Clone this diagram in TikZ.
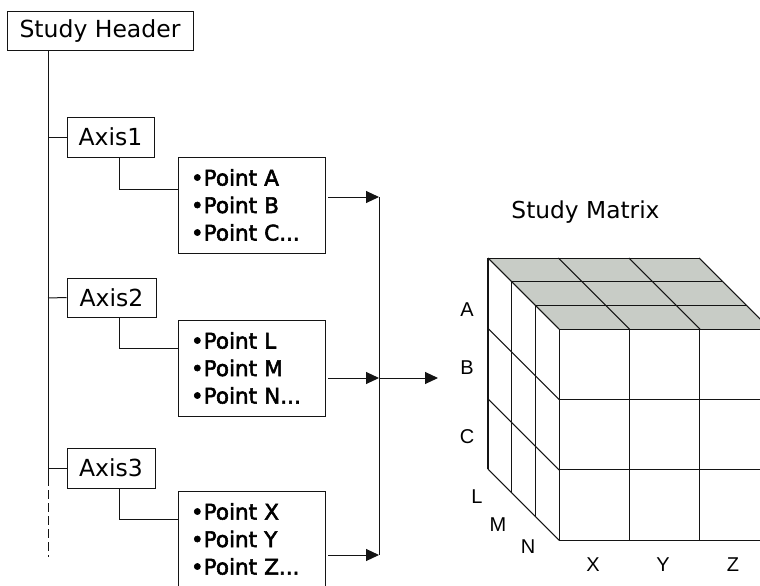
\documentclass[tikz,border=0pt]{standalone}
\usepackage{fontspec}
\setmainfont{DejaVu Sans}
\newfontfamily\labfont{Liberation Sans}
\newfontfamily\ptfont[FakeBold=2.5]{DejaVu Sans}
\usetikzlibrary{arrows.meta}
\definecolor{topgray}{RGB}{200,204,198}
\definecolor{linec}{RGB}{20,20,20}
\begin{document}
\begin{tikzpicture}[x=1pt,y=-1pt, line width=1pt, draw=linec,
  hbox/.style={draw=linec, rectangle, inner sep=0pt, font=\fontsize{23.5}{27}\selectfont},
  ptbox/.style={draw=linec, rectangle, inner xsep=13pt, inner ysep=0pt, minimum height=96pt, text width=121pt, align=left, font=\ptfont\fontsize{21.5}{27.5}\selectfont},
  arr/.style={-{Triangle[length=13pt,width=12pt]}},
  lab/.style={font=\labfont\fontsize{20}{24}\selectfont, inner sep=0pt},
  ttl/.style={font=\fontsize{23.3}{27}\selectfont, inner sep=0pt},
  ]
\useasboundingbox (0,0) rectangle (760,586);
\clip (0,0) rectangle (760,586);

% tree boxes
\node[hbox, minimum width=186pt, minimum height=39pt] (hdr) at (100,31.5) {Study Header};
\node[hbox, minimum width=87pt, minimum height=40pt] (ax1) at (110.5,137) {Axis1};
\node[hbox, minimum width=89pt, minimum height=39pt] (ax2) at (111.5,297.5) {Axis2};
\node[hbox, minimum width=88pt, minimum height=40pt] (ax3) at (111,468) {Axis3};
\node[ptbox] (p1) at (251.5,205) {•Point A\\•Point B\\•Point C...};
\node[ptbox] (p2) at (251.5,368) {•Point L\\•Point M\\•Point N...};
\node[ptbox] (p3) at (251.5,539) {•Point X\\•Point Y\\•Point Z...};

% main trunk
\coordinate (m1) at (48,137);
\coordinate (m2) at (48,298);
\coordinate (m3) at (48,468);
\coordinate (mdash) at (48,477);
\coordinate (mend) at (48,557);
\draw (m1 |- hdr.south) -- (mdash);
\draw[dash pattern=on 9pt off 4pt] (mdash) -- (mend);
\draw (m1) -- (ax1.west);
\draw (m2) -- (ax2.west);
\draw (m3) -- (ax3.west);

% axis to points
\coordinate (b1) at (119,189);
\coordinate (b2) at (119,348);
\coordinate (b3) at (119,519);
\draw (b1 |- ax1.south) -- (b1) -- (b1 -| p1.west);
\draw (b2 |- ax2.south) -- (b2) -- (b2 -| p2.west);
\draw (b3 |- ax3.south) -- (b3) -- (b3 -| p3.west);

% arrows to collector
\coordinate (a1) at (328,197);
\coordinate (a2) at (328,378);
\coordinate (a3) at (328,555);
\coordinate (j1) at (379,197);
\coordinate (j2) at (379,378);
\coordinate (j3) at (379,555);
\coordinate (tgt) at (438,378);
\draw[arr] (a1) -- (j1);
\draw[arr] (a2) -- (j2);
\draw[arr] (a3) -- (j3);
\draw (j1) -- (j3);
\draw[arr] (j2) -- (tgt);

% cube
\foreach \i in {0,...,3}
  \foreach \j in {0,...,3}
    \foreach \k in {0,...,3}
      \coordinate (c\i\j\k) at ({488+70.4*\i+23.7*\k},{258+70.4*\j+23.7*\k});
\fill[topgray] (c000) -- (c300) -- (c303) -- (c003) -- cycle;
\foreach \k in {0,...,3} \draw (c00\k) -- (c30\k);
\foreach \i in {0,...,3} \draw (c\i00) -- (c\i03);
\foreach \k in {0,...,3} \draw (c00\k) -- (c03\k);
\foreach \j in {0,...,3} \draw (c0\j0) -- (c0\j3);
\foreach \i in {0,...,3} \draw (c\i03) -- (c\i33);
\foreach \j in {0,...,3} \draw (c0\j3) -- (c3\j3);
\draw[line width=2pt] (c000) -- (c030);

% labels
\node[ttl] (title) at (585.5,212) {Study Matrix};
\node[lab] (lA) at (467,310) {A};
\node[lab] (lB) at (467,368) {B};
\node[lab] (lC) at (467,437) {C};
\node[lab] (lL) at (477,497) {L};
\node[lab] (lM) at (498,525) {M};
\node[lab] (lN) at (528,547) {N};
\node[lab] (lX) at (593,565) {X};
\node[lab] (lY) at (663,565) {Y};
\node[lab] (lZ) at (733,565) {Z};
\end{tikzpicture}
\end{document}
